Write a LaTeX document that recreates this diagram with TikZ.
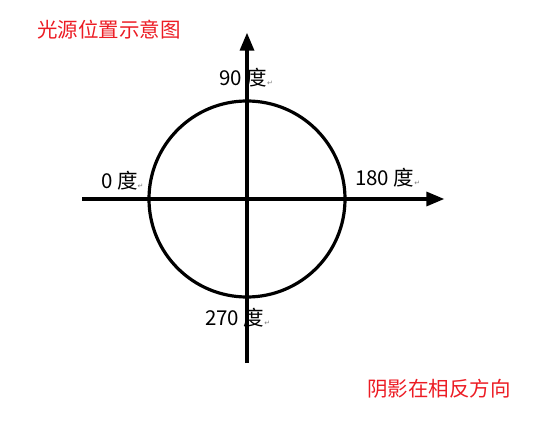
\documentclass[tikz,border=0pt]{standalone}
\usepackage{fontspec}
\usepackage{tikz}
\usetikzlibrary{positioning, calc, arrows, shapes}
\tikzset{>=triangle 45}
\newfontfamily\cjk{Noto Sans CJK SC}
\newfontfamily\symfont{DejaVu Sans}
\definecolor{notered}{RGB}{236,28,36}
\newcommand{\parmark}{{\symfont\fontsize{7}{7}\selectfont\textcolor{gray}{↵}}}

\begin{document}
\begin{tikzpicture}
    [x=1pt, y=-1pt,
     axis/.style={line width=3.2pt, ->},
     deg/.style={font=\cjk\fontsize{20.5}{20.5}\selectfont, inner sep=0pt, anchor=west},
     note/.style={deg, text=notered}]
    \useasboundingbox (0,0) rectangle (554,422);

    \coordinate (O) at (247,199);
    \node[draw, circle, line width=3.2pt, minimum size=196pt, inner sep=0pt] (ring) at (O) {};

    \coordinate (west) at (82,199);
    \coordinate (east) at (444,199);
    \coordinate (south) at (247,363);
    \coordinate (north) at (247,33);
    \draw[axis] (west) -- (east);
    \draw[axis] (south) -- (north);

    \node[deg] (d90) at (219,78) {90 度\parmark};
    \node[deg] (d0) at (101,181) {0 度\parmark};
    \node[deg] (d180) at (355,178) {180 度\parmark};
    \node[deg] (d270) at (205,318) {270 度\parmark};

    \node[note] (title) at (37,30) {光源位置示意图};
    \node[note] (shadow) at (367,389) {阴影在相反方向};
  \end{tikzpicture}
\end{document}
